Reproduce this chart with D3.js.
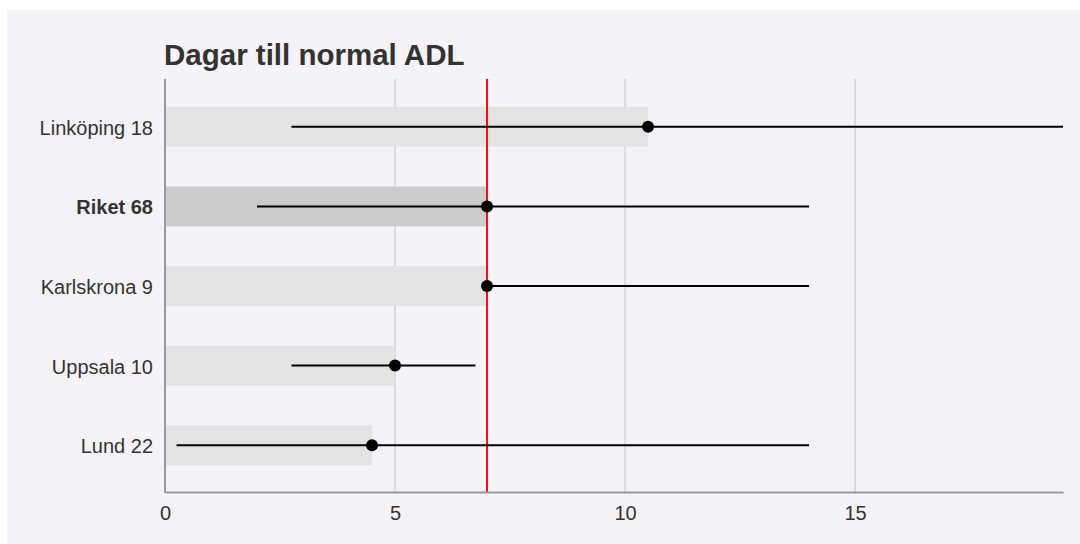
<!DOCTYPE html>
<html><head><meta charset="utf-8">
<script src="https://cdn.jsdelivr.net/npm/d3@7"></script>
<style>
html,body{margin:0;padding:0;background:#fff;}
svg{display:block;font-family:"Liberation Sans",Arial,sans-serif;}
</style></head>
<body>
<script>
const categories = ["Linköping 18","Riket 68","Karlskrona 9","Uppsala 10","Lund 22"];
const medians = [10.5, 7, 7, 5, 4.5];
const lowers  = [2.75, 2, 7, 2.75, 0.25];
const uppers  = [21, 14, 14, 6.75, 14];
const highlight = ["Riket 68"];
const referenceValue = 7;
const xTicks = [0, 5, 10, 15];
const title = "Dagar till normal ADL";

(function(){
const W = 1080, H = 544;
const svg = d3.select("body").append("svg").attr("width", W).attr("height", H);
svg.append("rect").attr("x",7).attr("y",10).attr("width",W-7).attr("height",H-10).attr("fill","#f5f3f7");

const pL = 165, pR = 1063, pT = 79, pB = 492;
const x = d3.scaleLinear().domain([0, 19.52]).range([pL, pR]);
const y = d3.scaleBand().domain(categories).range([87, 485]).paddingInner(0.5).paddingOuter(0.25);

svg.append("g").selectAll("line").data(xTicks.filter(d=>d>0)).join("line")
  .attr("x1",d=>x(d)).attr("x2",d=>x(d)).attr("y1",pT).attr("y2",pB)
  .attr("stroke","#d3d2d5").attr("stroke-width",1.5);

svg.append("g").selectAll("rect").data(categories).join("rect")
  .attr("x",x(0)).attr("y",d=>y(d)).attr("height",y.bandwidth())
  .attr("width",(d,i)=>x(medians[i])-x(0))
  .attr("fill",d=>highlight.includes(d)?"#cbcbcb":"#e3e3e3");

svg.append("line").attr("x1",x(referenceValue)).attr("x2",x(referenceValue))
  .attr("y1",pT).attr("y2",pB).attr("stroke","#ee1111").attr("stroke-width",2);

svg.append("clipPath").attr("id","clip").append("rect")
  .attr("x",pL).attr("y",pT).attr("width",pR-pL).attr("height",pB-pT);

const cy = d => y(d) + y.bandwidth()/2;
const eb = svg.append("g").attr("clip-path","url(#clip)");
eb.selectAll("line").data(categories).join("line")
  .attr("x1",(d,i)=>x(lowers[i])).attr("x2",(d,i)=>x(uppers[i]))
  .attr("y1",cy).attr("y2",cy).attr("stroke","#000").attr("stroke-width",2);
eb.selectAll("circle").data(categories).join("circle")
  .attr("cx",(d,i)=>x(medians[i])).attr("cy",cy).attr("r",6).attr("fill","#000");

const xAxis = d3.axisBottom(x).tickValues(xTicks).tickSize(0).tickPadding(14);
const gx = svg.append("g").attr("transform",`translate(0,${pB})`).call(xAxis);
gx.select(".domain").attr("stroke","#9a999b").attr("stroke-width",2);
gx.selectAll("text").attr("font-size",20).attr("fill","#333").attr("font-family","Liberation Sans, Arial, sans-serif");

svg.append("line").attr("x1",pL).attr("x2",pL).attr("y1",pT).attr("y2",pB+1)
  .attr("stroke","#9a999b").attr("stroke-width",2);

svg.append("g").selectAll("text").data(categories).join("text")
  .attr("x",153).attr("y",cy).attr("dy","0.4em").attr("text-anchor","end")
  .attr("font-size",20).attr("fill","#333")
  .attr("font-weight",d=>highlight.includes(d)?"bold":"normal")
  .text(d=>d);

svg.append("text").attr("x",164).attr("y",65).attr("font-size",29.5).attr("font-weight","bold")
  .attr("fill","#333").text(title);
})();
</script>
</body></html>
